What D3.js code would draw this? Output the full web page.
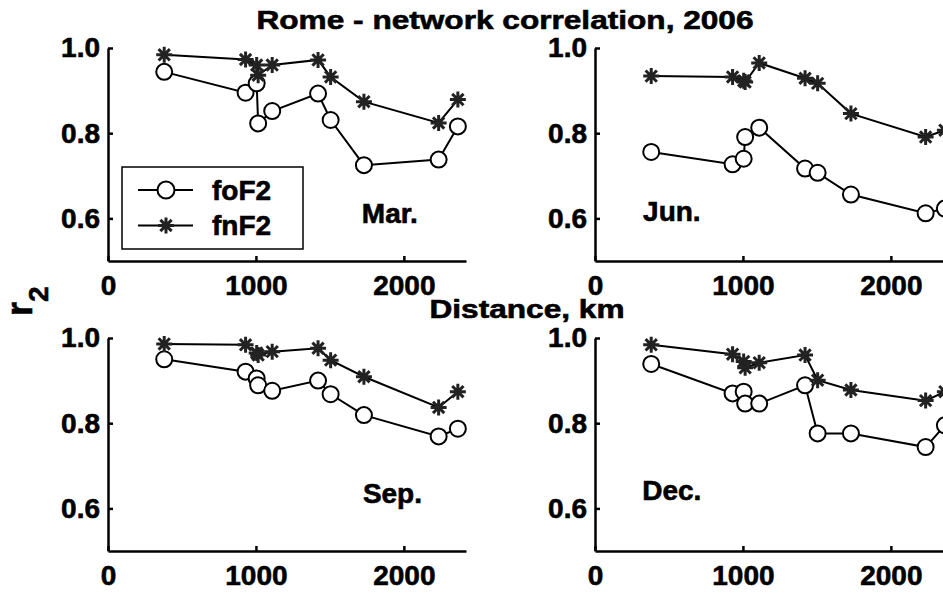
<!DOCTYPE html>
<html>
<head>
<meta charset="utf-8">
<script src="https://cdn.jsdelivr.net/npm/d3@7"></script>
<style>
  body { margin: 0; background: #fff; }
  text { font-family: Arial, "Liberation Sans", sans-serif; font-weight: bold; fill: #000; stroke: #000; stroke-width: 0.6px; }
</style>
</head>
<body>
<svg id="chart" width="943" height="593"></svg>
<script>
// station distances from Rome, km
const distances = [380, 930, 1005, 1015, 1110, 1420, 1505, 1730, 2235, 2365];
const months = ["Mar.", "Jun.", "Sep.", "Dec."];
const seriesNames = ["foF2", "fnF2"];
const xTicks = [0, 1000, 2000];
const yTicks = [0.6, 0.8, 1.0];

const foF2Mar = [0.944, 0.895, 0.917, 0.823, 0.852, 0.893, 0.831, 0.725, 0.738, 0.816];
const fnF2Mar = [0.984, 0.973, 0.960, 0.936, 0.960, 0.972, 0.932, 0.874, 0.824, 0.879];
const foF2Jun = [0.756, 0.727, 0.740, 0.791, 0.813, 0.717, 0.707, 0.656, 0.612, 0.623];
const fnF2Jun = [0.934, 0.932, 0.923, 0.920, 0.965, 0.929, 0.917, 0.846, 0.791, 0.807];
const foF2Sep = [0.950, 0.921, 0.905, 0.889, 0.876, 0.900, 0.868, 0.819, 0.769, 0.787];
const fnF2Sep = [0.986, 0.984, 0.965, 0.960, 0.968, 0.976, 0.948, 0.909, 0.837, 0.874];
const foF2Dec = [0.939, 0.870, 0.874, 0.846, 0.846, 0.889, 0.776, 0.776, 0.744, 0.795];
const fnF2Dec = [0.984, 0.962, 0.945, 0.930, 0.942, 0.960, 0.901, 0.878, 0.853, 0.874];

const foF2 = [foF2Mar, foF2Jun, foF2Sep, foF2Dec];
const fnF2 = [fnF2Mar, fnF2Jun, fnF2Sep, fnF2Dec];

// layout
const panels = [
  { left: 108, top: 48 },
  { left: 595, top: 48 },
  { left: 108, top: 338 },
  { left: 595, top: 338 }
];
const plotW = 358;
const plotH = 213;
// month label anchor in data units (distance, r2)
const labelPos = [[1716, 0.59], [325, 0.595], [1723, 0.612], [319, 0.619]];

const svg = d3.select("#chart");

// MATLAB-like '*' marker: 8 spokes
const asterisk = {
  draw(ctx, size) {
    const r = Math.sqrt(size) / 2;
    for (let k = 0; k < 4; k++) {
      const a = (k * Math.PI) / 4;
      ctx.moveTo(r * Math.cos(a), r * Math.sin(a));
      ctx.lineTo(-r * Math.cos(a), -r * Math.sin(a));
    }
  }
};
const starPath = d3.symbol().type(asterisk).size(256)();

panels.forEach((p, pi) => {
  const x = d3.scaleLinear().domain([0, 2420]).range([0, plotW]);
  const y = d3.scaleLinear().domain([0.5, 1.0]).range([plotH, 0]);

  const g = svg.append("g").attr("transform", `translate(${p.left},${p.top})`);

  // axes
  const xAxis = g.append("g")
    .attr("transform", `translate(0,${plotH})`)
    .call(d3.axisBottom(x).tickValues(xTicks).tickFormat(d3.format("d"))
      .tickSizeInner(-5).tickSizeOuter(0).tickPadding(14));
  const yAxis = g.append("g")
    .call(d3.axisLeft(y).tickValues(yTicks).tickFormat(d3.format(".1f"))
      .tickSizeInner(-5).tickSizeOuter(0).tickPadding(8));

  [xAxis, yAxis].forEach(a => {
    a.select(".domain").attr("stroke", "#000").attr("stroke-width", 2.5);
    a.selectAll(".tick line").attr("stroke", "#000").attr("stroke-width", 2.5);
    a.selectAll(".tick text")
      .style("font-size", "28px")
      .style("font-family", "Arial, 'Liberation Sans', sans-serif")
      .style("font-weight", "bold")
      .attr("fill", "#000");
  });

  const line = d3.line()
    .x((d, i) => x(distances[i]))
    .y(d => y(d));

  // foF2: line + open circles
  g.append("path")
    .datum(foF2[pi])
    .attr("d", line)
    .attr("fill", "none")
    .attr("stroke", "#000")
    .attr("stroke-width", 2);
  g.selectAll("circle.fo")
    .data(foF2[pi])
    .join("circle")
    .attr("class", "fo")
    .attr("cx", (d, i) => x(distances[i]))
    .attr("cy", d => y(d))
    .attr("r", 8)
    .attr("fill", "#fff")
    .attr("stroke", "#000")
    .attr("stroke-width", 2);

  // fnF2: line + asterisks
  g.append("path")
    .datum(fnF2[pi])
    .attr("d", line)
    .attr("fill", "none")
    .attr("stroke", "#000")
    .attr("stroke-width", 2);
  g.selectAll("path.fn")
    .data(fnF2[pi])
    .join("path")
    .attr("class", "fn")
    .attr("d", starPath)
    .attr("transform", (d, i) => `translate(${x(distances[i])},${y(d)})`)
    .attr("stroke", "#222")
    .attr("stroke-width", 3);

  // month label
  g.append("text")
    .attr("x", x(labelPos[pi][0]))
    .attr("y", y(labelPos[pi][1]))
    .style("font-size", "28px")
    .text(months[pi]);

  // legend in first panel
  if (pi === 0) {
    const lg = g.append("g").attr("transform", "translate(14,119)");
    lg.append("rect")
      .attr("width", 181).attr("height", 82)
      .attr("fill", "#fff").attr("stroke", "#000").attr("stroke-width", 1.5);
    seriesNames.forEach((name, k) => {
      const cy = 23 + k * 35.5;
      lg.append("line")
        .attr("x1", 16).attr("x2", 71).attr("y1", cy).attr("y2", cy)
        .attr("stroke", "#000").attr("stroke-width", 2);
      if (k === 0) {
        lg.append("circle").attr("cx", 44).attr("cy", cy).attr("r", 8.5)
          .attr("fill", "#fff").attr("stroke", "#000").attr("stroke-width", 2);
      } else {
        lg.append("path").attr("d", starPath)
          .attr("transform", `translate(44,${cy})`)
          .attr("stroke", "#222").attr("stroke-width", 3);
      }
      lg.append("text")
        .attr("x", 90).attr("y", cy + 9.5)
        .style("font-size", "28px")
        .text(name);
    });
  }
});

// title and shared labels
svg.append("text")
  .attr("x", 505).attr("y", 29)
  .attr("text-anchor", "middle")
  .attr("textLength", 497).attr("lengthAdjust", "spacingAndGlyphs")
  .style("font-size", "26px")
  .text("Rome - network correlation, 2006");

svg.append("text")
  .attr("x", 527).attr("y", 318)
  .attr("text-anchor", "middle")
  .attr("textLength", 195).attr("lengthAdjust", "spacingAndGlyphs")
  .style("font-size", "26px")
  .text("Distance, km");

const ylab = svg.append("text")
  .attr("transform", "translate(32,316) rotate(-90)")
  .style("font-size", "36px");
ylab.append("tspan").text("r");
ylab.append("tspan").attr("dy", 16).style("font-size", "28px").text("2");
</script>
</body>
</html>
